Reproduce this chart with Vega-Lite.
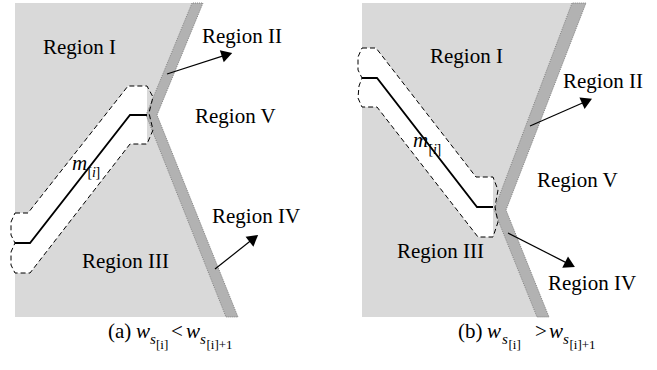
{
  "$schema": "https://vega.github.io/schema/vega-lite/v6.json",
  "width": 657,
  "height": 370,
  "autosize": {"type": "fit", "contains": "padding"},
  "padding": 0,
  "background": "white",
  "config": {"view": {"stroke": null}, "text": {"font": "Liberation Serif"}},
  "datasets": {
    "gray": [
      {"panel": "a", "y": 3, "x1": 15, "x2": 192},
      {"panel": "a", "y": 115, "x1": 15, "x2": 146},
      {"panel": "a", "y": 317, "x1": 15, "x2": 226},
      {"panel": "b", "y": 3, "x1": 362, "x2": 572},
      {"panel": "b", "y": 210, "x1": 362, "x2": 494},
      {"panel": "b", "y": 317, "x1": 362, "x2": 537}
    ],
    "hole": [
      {"panel": "a", "x": 15, "y1": 213, "y2": 273},
      {"panel": "a", "x": 28, "y1": 213, "y2": 273},
      {"panel": "a", "x": 30, "y1": 210.5, "y2": 273},
      {"panel": "a", "x": 128, "y1": 86, "y2": 146.5},
      {"panel": "a", "x": 130, "y1": 86, "y2": 144},
      {"panel": "a", "x": 147, "y1": 86, "y2": 144},
      {"panel": "b", "x": 362, "y1": 48, "y2": 107},
      {"panel": "b", "x": 376, "y1": 48, "y2": 107},
      {"panel": "b", "x": 377, "y1": 49.3, "y2": 107},
      {"panel": "b", "x": 476, "y1": 177, "y2": 234.5},
      {"panel": "b", "x": 478, "y1": 177, "y2": 237},
      {"panel": "b", "x": 493, "y1": 177, "y2": 237}
    ],
    "band": [
      {"panel": "a", "y": 3, "x1": 192, "x2": 203},
      {"panel": "a", "y": 115, "x1": 146, "x2": 157},
      {"panel": "a", "y": 317, "x1": 226, "x2": 238},
      {"panel": "b", "y": 3, "x1": 572, "x2": 586},
      {"panel": "b", "y": 210, "x1": 494, "x2": 506},
      {"panel": "b", "y": 317, "x1": 537, "x2": 549}
    ],
    "outline": [
      {"p": "a", "o": 1, "x": 15, "y": 213}, {"p": "a", "o": 2, "x": 28, "y": 213},
      {"p": "a", "o": 3, "x": 128, "y": 86}, {"p": "a", "o": 4, "x": 147, "y": 86},
      {"p": "a", "o": 5, "x": 153, "y": 97}, {"p": "a", "o": 6, "x": 149, "y": 113},
      {"p": "a", "o": 7, "x": 153, "y": 130}, {"p": "a", "o": 8, "x": 147, "y": 144},
      {"p": "a", "o": 9, "x": 130, "y": 144}, {"p": "a", "o": 10, "x": 30, "y": 273},
      {"p": "a", "o": 11, "x": 15, "y": 273}, {"p": "a", "o": 12, "x": 11, "y": 265},
      {"p": "a", "o": 13, "x": 11, "y": 252}, {"p": "a", "o": 14, "x": 15, "y": 243},
      {"p": "a", "o": 15, "x": 11, "y": 235}, {"p": "a", "o": 16, "x": 11, "y": 222},
      {"p": "a", "o": 17, "x": 15, "y": 213},
      {"p": "b", "o": 1, "x": 362, "y": 48}, {"p": "b", "o": 2, "x": 376, "y": 48},
      {"p": "b", "o": 3, "x": 476, "y": 177}, {"p": "b", "o": 4, "x": 493, "y": 177},
      {"p": "b", "o": 5, "x": 498, "y": 190}, {"p": "b", "o": 6, "x": 495, "y": 207},
      {"p": "b", "o": 7, "x": 498, "y": 222}, {"p": "b", "o": 8, "x": 493, "y": 237},
      {"p": "b", "o": 9, "x": 478, "y": 237}, {"p": "b", "o": 10, "x": 377, "y": 107},
      {"p": "b", "o": 11, "x": 362, "y": 107}, {"p": "b", "o": 12, "x": 358, "y": 98},
      {"p": "b", "o": 13, "x": 359, "y": 86}, {"p": "b", "o": 14, "x": 362, "y": 78},
      {"p": "b", "o": 15, "x": 358, "y": 70}, {"p": "b", "o": 16, "x": 358, "y": 57},
      {"p": "b", "o": 17, "x": 362, "y": 48}
    ],
    "path": [
      {"p": "a", "o": 1, "x": 15, "y": 243}, {"p": "a", "o": 2, "x": 30, "y": 243},
      {"p": "a", "o": 3, "x": 130, "y": 115}, {"p": "a", "o": 4, "x": 147, "y": 115},
      {"p": "b", "o": 1, "x": 362, "y": 78}, {"p": "b", "o": 2, "x": 377, "y": 78},
      {"p": "b", "o": 3, "x": 477, "y": 207}, {"p": "b", "o": 4, "x": 493, "y": 207}
    ],
    "arrows": [
      {"p": "a2", "o": 1, "x": 167, "y": 74}, {"p": "a2", "o": 2, "x": 227, "y": 54.6},
      {"p": "a4", "o": 1, "x": 215, "y": 269}, {"p": "a4", "o": 2, "x": 253.8, "y": 238.3},
      {"p": "b2", "o": 1, "x": 530, "y": 126}, {"p": "b2", "o": 2, "x": 587, "y": 101},
      {"p": "b4", "o": 1, "x": 508, "y": 233}, {"p": "b4", "o": 2, "x": 570, "y": 264.6}
    ],
    "heads": [
      {"p": "a2", "x": 227, "y": 54.6, "ang": 72},
      {"p": "a4", "x": 253.8, "y": 238.3, "ang": 52},
      {"p": "b2", "x": 587, "y": 101, "ang": 66},
      {"p": "b4", "x": 570, "y": 264.6, "ang": 117}
    ],
    "labels": [
      {"t": "Region I", "x": 43, "y": 54},
      {"t": "Region II", "x": 202, "y": 43},
      {"t": "Region V", "x": 195, "y": 123},
      {"t": "Region IV", "x": 212, "y": 223},
      {"t": "Region III", "x": 82, "y": 268},
      {"t": "Region I", "x": 430, "y": 63},
      {"t": "Region II", "x": 563, "y": 88},
      {"t": "Region V", "x": 537, "y": 187},
      {"t": "Region III", "x": 397, "y": 258},
      {"t": "Region IV", "x": 548, "y": 290}
    ],
    "mvar": [
      {"t": "m", "x": 72, "y": 170},
      {"t": "m", "x": 413, "y": 147}
    ],
    "msubUp": [
      {"t": "[", "x": 87.5, "y": 177},
      {"t": "]", "x": 95.5, "y": 177},
      {"t": "[", "x": 428.5, "y": 154},
      {"t": "]", "x": 436.5, "y": 154}
    ],
    "msubIt": [
      {"t": "i", "x": 92, "y": 177},
      {"t": "i", "x": 433, "y": 154}
    ],
    "capMain": [
      {"t": "(a)", "x": 108, "y": 338},
      {"t": "<", "x": 171, "y": 338},
      {"t": "(b)", "x": 458, "y": 338},
      {"t": ">", "x": 535, "y": 338}
    ],
    "capItal": [
      {"t": "w", "x": 136, "y": 338},
      {"t": "w", "x": 186, "y": 338},
      {"t": "w", "x": 487, "y": 338},
      {"t": "w", "x": 549, "y": 338}
    ],
    "capSub": [
      {"t": "s", "x": 150, "y": 344},
      {"t": "s", "x": 200, "y": 344},
      {"t": "s", "x": 502, "y": 344},
      {"t": "s", "x": 563, "y": 344}
    ],
    "capSub2": [
      {"t": "[i]", "x": 156, "y": 349},
      {"t": "[i]+1", "x": 206.5, "y": 349},
      {"t": "[i]", "x": 508.5, "y": 349},
      {"t": "[i]+1", "x": 569.5, "y": 349}
    ]
  },
  "layer": [
    {
      "data": {"name": "gray"},
      "mark": {"type": "area", "orient": "horizontal", "color": "#d9d9d9"},
      "encoding": {
        "y": {"field": "y", "type": "quantitative", "axis": null, "scale": {"domain": [0, 370], "reverse": true, "nice": false, "zero": false}},
        "x": {"field": "x1", "type": "quantitative", "axis": null, "scale": {"domain": [0, 657], "nice": false, "zero": false}},
        "x2": {"field": "x2"},
        "detail": {"field": "panel"}
      }
    },
    {
      "data": {"name": "hole"},
      "mark": {"type": "area", "orient": "vertical", "color": "white"},
      "encoding": {
        "x": {"field": "x", "type": "quantitative", "axis": null, "scale": {"domain": [0, 657], "nice": false, "zero": false}},
        "y": {"field": "y1", "type": "quantitative", "axis": null, "scale": {"domain": [0, 370], "reverse": true, "nice": false, "zero": false}},
        "y2": {"field": "y2"},
        "detail": {"field": "panel"}
      }
    },
    {
      "data": {"name": "band"},
      "mark": {"type": "area", "orient": "horizontal", "color": "#b2b2b2", "stroke": "#6e6e6e", "strokeWidth": 0.8, "strokeDash": [1, 1]},
      "encoding": {
        "y": {"field": "y", "type": "quantitative", "axis": null, "scale": {"domain": [0, 370], "reverse": true, "nice": false, "zero": false}},
        "x": {"field": "x1", "type": "quantitative", "axis": null, "scale": {"domain": [0, 657], "nice": false, "zero": false}},
        "x2": {"field": "x2"},
        "detail": {"field": "panel"}
      }
    },
    {
      "data": {"name": "outline"},
      "mark": {"type": "line", "color": "black", "strokeWidth": 1, "strokeDash": [5, 3]},
      "encoding": {
        "x": {"field": "x", "type": "quantitative", "axis": null, "scale": {"domain": [0, 657], "nice": false, "zero": false}},
        "y": {"field": "y", "type": "quantitative", "axis": null, "scale": {"domain": [0, 370], "reverse": true, "nice": false, "zero": false}},
        "order": {"field": "o", "type": "quantitative"},
        "detail": {"field": "p"}
      }
    },
    {
      "data": {"name": "path"},
      "mark": {"type": "line", "color": "black", "strokeWidth": 1.8},
      "encoding": {
        "x": {"field": "x", "type": "quantitative", "axis": null, "scale": {"domain": [0, 657], "nice": false, "zero": false}},
        "y": {"field": "y", "type": "quantitative", "axis": null, "scale": {"domain": [0, 370], "reverse": true, "nice": false, "zero": false}},
        "order": {"field": "o", "type": "quantitative"},
        "detail": {"field": "p"}
      }
    },
    {
      "data": {"name": "arrows"},
      "mark": {"type": "line", "color": "black", "strokeWidth": 1.2},
      "encoding": {
        "x": {"field": "x", "type": "quantitative", "axis": null, "scale": {"domain": [0, 657], "nice": false, "zero": false}},
        "y": {"field": "y", "type": "quantitative", "axis": null, "scale": {"domain": [0, 370], "reverse": true, "nice": false, "zero": false}},
        "order": {"field": "o", "type": "quantitative"},
        "detail": {"field": "p"}
      }
    },
    {
      "data": {"name": "heads"},
      "mark": {"type": "point", "shape": "triangle-up", "filled": true, "color": "black", "opacity": 1, "size": 160},
      "encoding": {
        "x": {"field": "x", "type": "quantitative", "axis": null, "scale": {"domain": [0, 657], "nice": false, "zero": false}},
        "y": {"field": "y", "type": "quantitative", "axis": null, "scale": {"domain": [0, 370], "reverse": true, "nice": false, "zero": false}},
        "angle": {"field": "ang", "type": "quantitative", "scale": null}
      }
    },
    {
      "data": {"name": "labels"},
      "mark": {"type": "text", "align": "left", "baseline": "alphabetic", "fontSize": 21, "color": "black"},
      "encoding": {
        "x": {"field": "x", "type": "quantitative", "axis": null, "scale": {"domain": [0, 657], "nice": false, "zero": false}},
        "y": {"field": "y", "type": "quantitative", "axis": null, "scale": {"domain": [0, 370], "reverse": true, "nice": false, "zero": false}},
        "text": {"field": "t"}
      }
    },
    {
      "data": {"name": "mvar"},
      "mark": {"type": "text", "align": "left", "baseline": "alphabetic", "fontSize": 21, "fontStyle": "italic", "color": "black"},
      "encoding": {
        "x": {"field": "x", "type": "quantitative", "axis": null, "scale": {"domain": [0, 657], "nice": false, "zero": false}},
        "y": {"field": "y", "type": "quantitative", "axis": null, "scale": {"domain": [0, 370], "reverse": true, "nice": false, "zero": false}},
        "text": {"field": "t"}
      }
    },
    {
      "data": {"name": "msubUp"},
      "mark": {"type": "text", "align": "left", "baseline": "alphabetic", "fontSize": 14, "color": "black"},
      "encoding": {
        "x": {"field": "x", "type": "quantitative", "axis": null, "scale": {"domain": [0, 657], "nice": false, "zero": false}},
        "y": {"field": "y", "type": "quantitative", "axis": null, "scale": {"domain": [0, 370], "reverse": true, "nice": false, "zero": false}},
        "text": {"field": "t"}
      }
    },
    {
      "data": {"name": "msubIt"},
      "mark": {"type": "text", "align": "left", "baseline": "alphabetic", "fontSize": 14, "fontStyle": "italic", "color": "black"},
      "encoding": {
        "x": {"field": "x", "type": "quantitative", "axis": null, "scale": {"domain": [0, 657], "nice": false, "zero": false}},
        "y": {"field": "y", "type": "quantitative", "axis": null, "scale": {"domain": [0, 370], "reverse": true, "nice": false, "zero": false}},
        "text": {"field": "t"}
      }
    },
    {
      "data": {"name": "capMain"},
      "mark": {"type": "text", "align": "left", "baseline": "alphabetic", "fontSize": 21, "color": "black"},
      "encoding": {
        "x": {"field": "x", "type": "quantitative", "axis": null, "scale": {"domain": [0, 657], "nice": false, "zero": false}},
        "y": {"field": "y", "type": "quantitative", "axis": null, "scale": {"domain": [0, 370], "reverse": true, "nice": false, "zero": false}},
        "text": {"field": "t"}
      }
    },
    {
      "data": {"name": "capItal"},
      "mark": {"type": "text", "align": "left", "baseline": "alphabetic", "fontSize": 21, "fontStyle": "italic", "color": "black"},
      "encoding": {
        "x": {"field": "x", "type": "quantitative", "axis": null, "scale": {"domain": [0, 657], "nice": false, "zero": false}},
        "y": {"field": "y", "type": "quantitative", "axis": null, "scale": {"domain": [0, 370], "reverse": true, "nice": false, "zero": false}},
        "text": {"field": "t"}
      }
    },
    {
      "data": {"name": "capSub"},
      "mark": {"type": "text", "align": "left", "baseline": "alphabetic", "fontSize": 15, "fontStyle": "italic", "color": "black"},
      "encoding": {
        "x": {"field": "x", "type": "quantitative", "axis": null, "scale": {"domain": [0, 657], "nice": false, "zero": false}},
        "y": {"field": "y", "type": "quantitative", "axis": null, "scale": {"domain": [0, 370], "reverse": true, "nice": false, "zero": false}},
        "text": {"field": "t"}
      }
    },
    {
      "data": {"name": "capSub2"},
      "mark": {"type": "text", "align": "left", "baseline": "alphabetic", "fontSize": 13, "color": "black"},
      "encoding": {
        "x": {"field": "x", "type": "quantitative", "axis": null, "scale": {"domain": [0, 657], "nice": false, "zero": false}},
        "y": {"field": "y", "type": "quantitative", "axis": null, "scale": {"domain": [0, 370], "reverse": true, "nice": false, "zero": false}},
        "text": {"field": "t"}
      }
    }
  ]
}
